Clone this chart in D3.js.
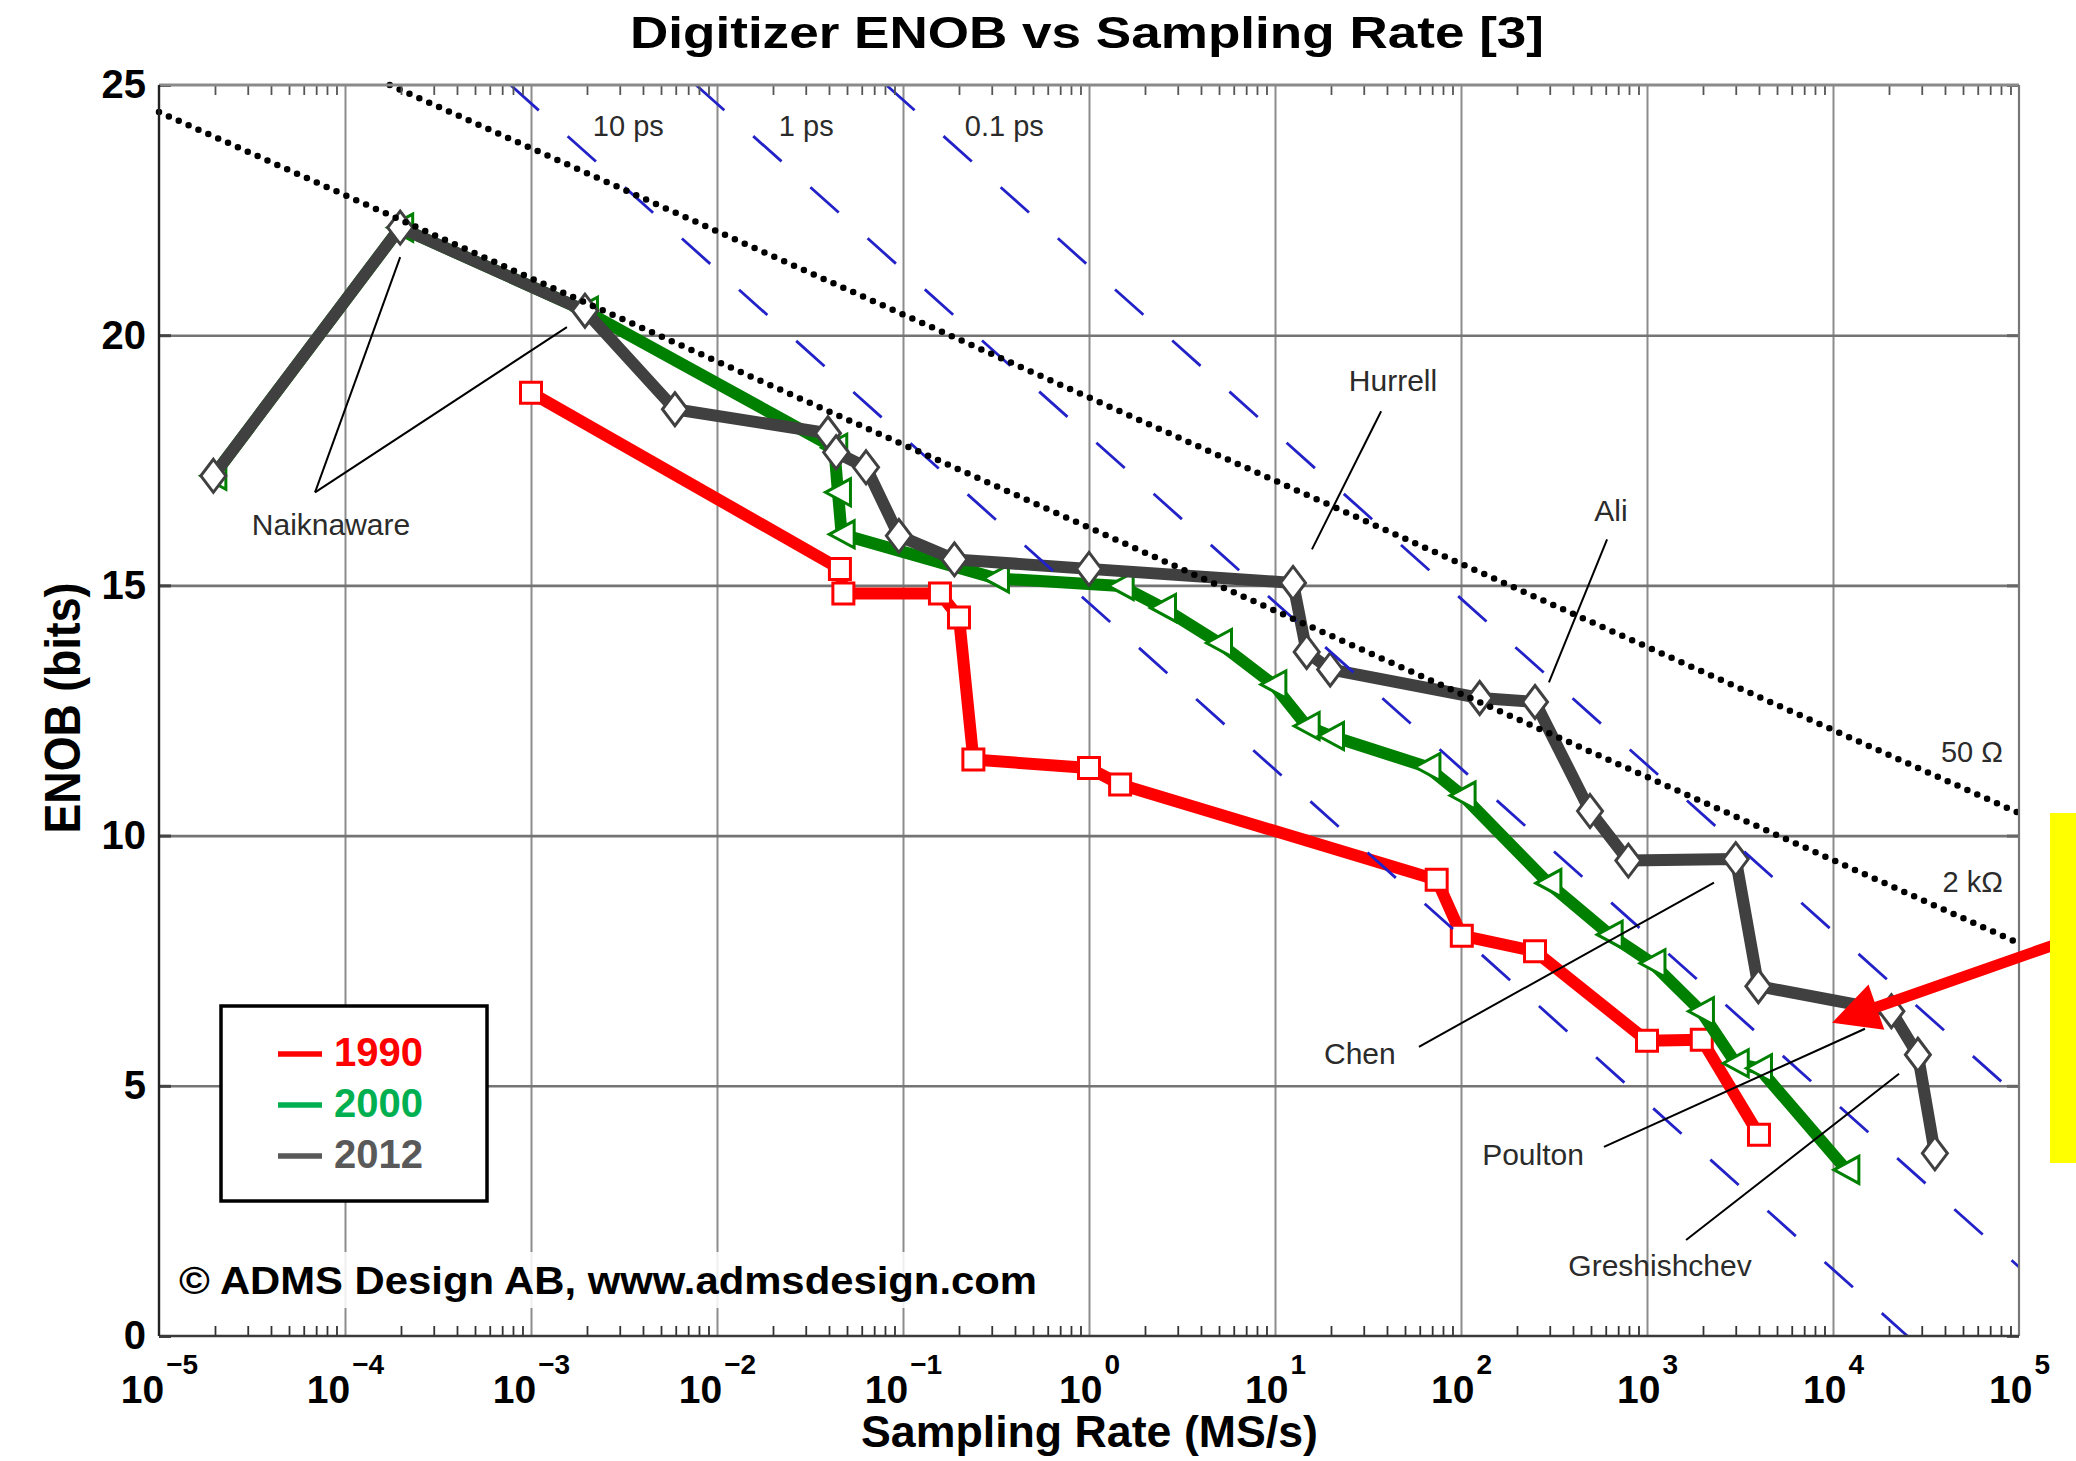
<!DOCTYPE html>
<html>
<head>
<meta charset="utf-8">
<script src="https://cdn.jsdelivr.net/npm/d3@7"></script>
<style>
  html, body { margin: 0; padding: 0; background: #fff; }
  svg { display: block; }
  text { font-family: "Liberation Sans", Arial, Helvetica, sans-serif; }
</style>
</head>
<body>
<svg id="chart" width="2076" height="1461"></svg>
<script>
// ---- Data: sampling rate (MS/s) and ENOB (bits) for each year's state of the art ----
const rate1990 = [1e-3, 0.0458, 0.0478, 0.158, 0.2, 0.239, 1, 1.47, 74, 101, 250, 1000, 1970, 4000];
const enob1990 = [18.85, 15.33, 14.84, 14.84, 14.36, 11.52, 11.35, 11.02, 9.12, 8.0, 7.69, 5.9, 5.92, 4.02];

const rate2000 = [1.96e-5, 1.98e-4, 1.95e-3, 0.0427, 0.0447, 0.0468, 0.316, 1.48, 2.5, 5, 9.8, 14.8, 20, 66, 102, 295, 630, 1070, 1950, 3000, 4000, 11800];
const enob2000 = [17.19, 22.15, 20.49, 17.75, 16.86, 16.02, 15.14, 14.99, 14.55, 13.85, 13.02, 12.19, 11.99, 11.37, 10.80, 9.05, 8.02, 7.45, 6.49, 5.45, 5.35, 3.32];

const rate2012 = [1.96e-5, 1.98e-4, 1.95e-3, 5.94e-3, 0.0395, 0.0437, 0.0633, 0.095, 0.189, 1, 12.5, 14.8, 19.8, 126, 250, 494, 794, 3000, 3970, 20600, 28600, 35300];
const enob2012 = [17.19, 22.15, 20.49, 18.52, 18.04, 17.66, 17.36, 15.99, 15.52, 15.33, 15.05, 13.67, 13.32, 12.75, 12.67, 10.49, 9.50, 9.53, 6.99, 6.49, 5.62, 3.65];

const seriesNames = ["1990", "2000", "2012"];

// Axis ticks
const xTickExponents = [-5, -4, -3, -2, -1, 0, 1, 2, 3, 4, 5];
const yTickValues = [0, 5, 10, 15, 20, 25];

// Aperture-jitter limits (straight on a log-rate axis): start/end points
const jitterLabels = ["10 ps", "1 ps", "0.1 ps"];
const jitterStart = [[7.76e-4, 25], [7.71e-3, 25], [8.13e-2, 25]];
const jitterEnd   = [[2.51e4, 0], [1e5, 1.38], [1e5, 4.77]];
const jitterLabelPos = [[2.15e-3, 23.98], [2.15e-2, 23.98], [0.215, 23.98]];

// Thermal-noise limits for two source resistances
const thermalLabels = ["50 Ω", "2 kΩ"];
const thermalStart = [[1.74e-4, 25], [1e-5, 24.46]];
const thermalEnd   = [[1e5, 10.45], [1e5, 7.85]];
const thermalLabelPos = [[8.2e4, 11.48], [8.2e4, 8.88]];

// Named designs with their leader lines
const calloutNames = ["Naiknaware", "Hurrell", "Ali", "Chen", "Poulton", "Greshishchev"];
const calloutLabelPos = [[8.41e-5, 16.0], [43.1, 18.88], [640, 16.28], [28.6, 5.44], [244, 3.42], [1175, 1.2]];
const calloutLeaders = [
  [[6.9e-5, 16.86], [1.98e-4, 21.56]],
  [[6.9e-5, 16.86], [1.56e-3, 20.16]],
  [[37.2, 18.48], [15.8, 15.72]],
  [[610, 15.92], [297, 13.06]],
  [[59.4, 5.78], [2291, 9.06]],
  [[587, 3.78], [14860, 6.14]],
  [[1622, 1.92], [22650, 5.24]]
];

// Highlight arrow (tail, tip)
const arrowTail = [1.503e5, 7.8];
const arrowTip = [9886, 6.26];

// ---- Layout ----
const W = 2076, H = 1461;
const M = { left: 159, right: 2019, top: 85, bottom: 1336 };
const FONT = '"Liberation Sans", Arial, Helvetica, sans-serif';

const x = d3.scaleLog().domain([1e-5, 1e5]).range([M.left, M.right]);
const y = d3.scaleLinear().domain([0, 25]).range([M.bottom, M.top]);

const svg = d3.select("#chart").attr("font-family", FONT);
svg.append("rect").attr("width", W).attr("height", H).attr("fill", "#fff");

const decades = xTickExponents.map(e => Math.pow(10, e));
const minors = [];
for (let e = -5; e < 5; e++) for (let k = 2; k <= 9; k++) minors.push(k * Math.pow(10, e));

function strip(g) {
  g.select(".domain").remove();
  g.attr("font-family", FONT).attr("font-size", null);
}

// Grid
svg.append("g").attr("transform", `translate(0,${M.bottom})`)
  .call(d3.axisBottom(x).tickValues(decades.slice(1, -1)).tickSize(-(M.bottom - M.top)).tickFormat(""))
  .call(strip)
  .call(g => g.selectAll("line").attr("stroke", "#8c8c8c").attr("stroke-width", 2));
svg.append("g").attr("transform", `translate(${M.left},0)`)
  .call(d3.axisLeft(y).tickValues(yTickValues.slice(1, -1)).tickSize(-(M.right - M.left)).tickFormat(""))
  .call(strip)
  .call(g => g.selectAll("line").attr("stroke", "#747474").attr("stroke-width", 2.6));

// Data series
const colors = ["#ff0000", "#008000", "#404040"];
const rates = [rate1990, rate2000, rate2012];
const enobs = [enob1990, enob2000, enob2012];
const markerPaths = [
  "M-10.5,-10.5H10.5V10.5H-10.5Z",
  "M-12.5,0L12.5,-13.5L12.5,13.5Z",
  "M0,-16.5L12.5,0L0,16.5L-12.5,0Z"
];
const line = d3.line().x(d => x(d[0])).y(d => y(d[1]));

seriesNames.forEach((name, i) => {
  const pts = rates[i].map((r, j) => [r, enobs[i][j]]);
  const g = svg.append("g").attr("class", "series-" + name);
  g.append("path").datum(pts).attr("d", line)
    .attr("fill", "none").attr("stroke", colors[i]).attr("stroke-width", 12)
    .attr("stroke-linejoin", "round").attr("stroke-linecap", "round");
  g.selectAll("path.mk").data(pts).join("path").attr("class", "mk")
    .attr("d", markerPaths[i])
    .attr("transform", d => `translate(${x(d[0])},${y(d[1])})`)
    .attr("fill", "#fff").attr("stroke", colors[i]).attr("stroke-width", 3);
});

// Jitter limits (blue dashed)
const jit = svg.append("g");
jitterLabels.forEach((lab, i) => {
  jit.append("line")
    .attr("x1", x(jitterStart[i][0])).attr("y1", y(jitterStart[i][1]))
    .attr("x2", x(jitterEnd[i][0])).attr("y2", y(jitterEnd[i][1]))
    .attr("stroke", "#2222c8").attr("stroke-width", 2.8).attr("stroke-dasharray", "38 38.7");
  jit.append("text").attr("x", x(jitterLabelPos[i][0])).attr("y", y(jitterLabelPos[i][1]))
    .attr("font-family", FONT).attr("font-size", 29).attr("fill", "#2b2b2b").text(lab);
});

// Thermal-noise limits (black dotted)
const th = svg.append("g");
thermalLabels.forEach((lab, i) => {
  th.append("line")
    .attr("x1", x(thermalStart[i][0])).attr("y1", y(thermalStart[i][1]))
    .attr("x2", x(thermalEnd[i][0])).attr("y2", y(thermalEnd[i][1]))
    .attr("stroke", "#000").attr("stroke-width", 6.5)
    .attr("stroke-linecap", "round").attr("stroke-dasharray", "0 10.8");
  th.append("text").attr("x", x(thermalLabelPos[i][0])).attr("y", y(thermalLabelPos[i][1]))
    .attr("text-anchor", "end").attr("font-family", FONT).attr("font-size", 29)
    .attr("fill", "#2b2b2b").text(lab);
});

// Callouts
const co = svg.append("g");
co.selectAll("line").data(calloutLeaders).join("line")
  .attr("x1", d => x(d[0][0])).attr("y1", d => y(d[0][1]))
  .attr("x2", d => x(d[1][0])).attr("y2", d => y(d[1][1]))
  .attr("stroke", "#000").attr("stroke-width", 2);
co.selectAll("text").data(calloutNames).join("text")
  .attr("x", (d, i) => x(calloutLabelPos[i][0])).attr("y", (d, i) => y(calloutLabelPos[i][1]))
  .attr("text-anchor", "middle").attr("font-family", FONT).attr("font-size", 30)
  .attr("fill", "#2b2b2b").text(d => d);

// Axes frame and ticks
svg.append("g").attr("transform", `translate(0,${M.bottom})`)
  .call(d3.axisBottom(x).tickValues(minors).tickSize(-10).tickFormat(""))
  .call(strip).call(g => g.selectAll("line").attr("stroke", "#333").attr("stroke-width", 1.8));
svg.append("g").attr("transform", `translate(0,${M.top})`)
  .call(d3.axisTop(x).tickValues(minors).tickSize(-10).tickFormat(""))
  .call(strip).call(g => g.selectAll("line").attr("stroke", "#555").attr("stroke-width", 1.8));
svg.append("g").attr("transform", `translate(${M.left},0)`)
  .call(d3.axisLeft(y).tickValues(yTickValues).tickSize(-12).tickFormat(""))
  .call(strip).call(g => g.selectAll("line").attr("stroke", "#444").attr("stroke-width", 3));
svg.append("g").attr("transform", `translate(${M.right},0)`)
  .call(d3.axisRight(y).tickValues(yTickValues).tickSize(-12).tickFormat(""))
  .call(strip).call(g => g.selectAll("line").attr("stroke", "#666").attr("stroke-width", 3));

const frame = svg.append("g");
frame.append("line").attr("x1", M.left).attr("x2", M.right).attr("y1", M.top).attr("y2", M.top)
  .attr("stroke", "#8a8a8a").attr("stroke-width", 3);
frame.append("line").attr("x1", M.right).attr("x2", M.right).attr("y1", M.top).attr("y2", M.bottom)
  .attr("stroke", "#777").attr("stroke-width", 2.2);
frame.append("line").attr("x1", M.left).attr("x2", M.right).attr("y1", M.bottom).attr("y2", M.bottom)
  .attr("stroke", "#3a3a3a").attr("stroke-width", 2.6);
frame.append("line").attr("x1", M.left).attr("x2", M.left).attr("y1", M.top).attr("y2", M.bottom)
  .attr("stroke", "#222").attr("stroke-width", 2.4);

// Tick labels
svg.append("g").attr("transform", `translate(0,${M.bottom})`)
  .call(d3.axisBottom(x).tickValues(decades).tickSize(0).tickFormat(""))
  .call(strip)
  .call(g => g.selectAll(".tick text").remove())
  .call(g => g.selectAll(".tick").append("text")
    .attr("y", 67).attr("text-anchor", "middle").attr("fill", "#000")
    .attr("font-weight", "bold").attr("font-family", FONT)
    .each(function (d) {
      const e = Math.round(Math.log10(d));
      const t = d3.select(this);
      t.append("tspan").attr("font-size", 39).text("10");
      t.append("tspan").attr("font-size", 28).attr("dx", 2).attr("dy", -29)
        .text(e < 0 ? "\u2212" + (-e) : String(e));
    }));

svg.append("g").attr("transform", `translate(${M.left},0)`)
  .call(d3.axisLeft(y).tickValues(yTickValues).tickSize(0).tickPadding(13).tickFormat(d3.format("d")))
  .call(strip)
  .call(g => g.selectAll(".tick text").attr("font-size", 40).attr("font-weight", "bold")
    .attr("fill", "#000").attr("font-family", FONT));

// Titles
svg.append("text").attr("x", 630).attr("y", 48)
  .attr("font-size", 45).attr("font-weight", "bold").attr("fill", "#000")
  .attr("textLength", 914).attr("lengthAdjust", "spacingAndGlyphs")
  .text("Digitizer ENOB vs Sampling Rate [3]");
svg.append("text").attr("x", 861).attr("y", 1447)
  .attr("font-size", 44).attr("font-weight", "bold").attr("fill", "#000")
  .attr("textLength", 457).attr("lengthAdjust", "spacingAndGlyphs")
  .text("Sampling Rate (MS/s)");
svg.append("text").attr("transform", "translate(80,708) rotate(-90)")
  .attr("text-anchor", "middle")
  .attr("font-size", 50).attr("font-weight", "bold").attr("fill", "#000")
  .attr("textLength", 251).attr("lengthAdjust", "spacingAndGlyphs")
  .text("ENOB (bits)");

// Legend
const lg = svg.append("g").attr("transform", "translate(221,1006)");
lg.append("rect").attr("width", 266).attr("height", 195)
  .attr("fill", "#fff").attr("stroke", "#000").attr("stroke-width", 3.5);
const legendColors = ["#ff0000", "#00b050", "#595959"];
seriesNames.forEach((name, i) => {
  const by = 60 + i * 51;
  lg.append("line").attr("x1", 57).attr("x2", 101).attr("y1", by - 12).attr("y2", by - 12)
    .attr("stroke", legendColors[i]).attr("stroke-width", 5.5);
  lg.append("text").attr("x", 113).attr("y", by)
    .attr("font-size", 40).attr("font-weight", "bold").attr("fill", legendColors[i]).text(name);
});

// Copyright notice
svg.append("rect").attr("x", 174).attr("y", 1252).attr("width", 870).attr("height", 56)
  .attr("fill", "#fff").attr("opacity", 0.85);
svg.append("text").attr("x", 179).attr("y", 1294)
  .attr("font-size", 38).attr("font-weight", "bold").attr("fill", "#000")
  .attr("textLength", 858).attr("lengthAdjust", "spacingAndGlyphs")
  .text("© ADMS Design AB, www.admsdesign.com");

// Highlight arrow
(function () {
  const tx = x(arrowTip[0]), ty = y(arrowTip[1]);
  const sx = x(arrowTail[0]), sy = y(arrowTail[1]);
  const dx = sx - tx, dy = sy - ty, len = Math.hypot(dx, dy);
  const ux = dx / len, uy = dy / len, nx = -uy, ny = ux;
  const headLen = 47, headHalf = 24, shaftHalf = 5.5;
  const bx = tx + ux * headLen, by = ty + uy * headLen;
  const pts = [
    [tx, ty],
    [bx + nx * headHalf, by + ny * headHalf],
    [bx + nx * shaftHalf, by + ny * shaftHalf],
    [sx + nx * shaftHalf, sy + ny * shaftHalf],
    [sx - nx * shaftHalf, sy - ny * shaftHalf],
    [bx - nx * shaftHalf, by - ny * shaftHalf],
    [bx - nx * headHalf, by - ny * headHalf]
  ];
  svg.append("path").attr("d", "M" + pts.map(p => p.join(",")).join("L") + "Z").attr("fill", "#ff0000");
})();

// Side note marker
svg.append("rect").attr("x", W - 26).attr("y", 813).attr("width", 26).attr("height", 350).attr("fill", "#ffff00");
</script>
</body>
</html>
